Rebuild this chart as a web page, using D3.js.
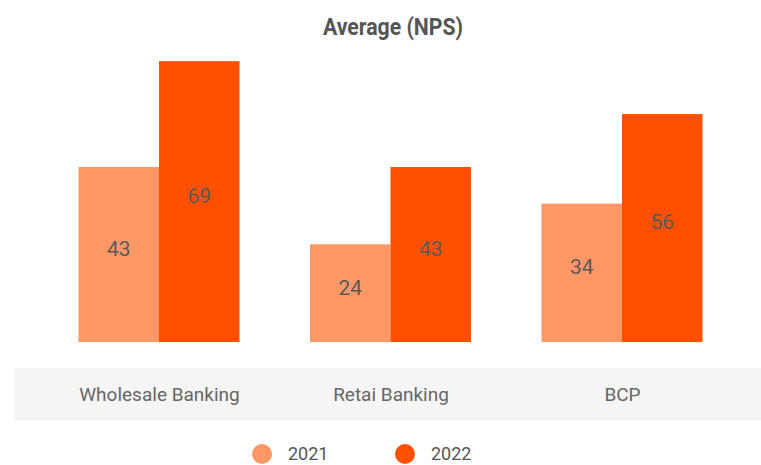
<!DOCTYPE html>
<html>
<head>
<meta charset="utf-8">
<script src="https://cdn.jsdelivr.net/npm/d3@7"></script>
<style>
  html, body { margin: 0; padding: 0; background: #fff; }
  svg { display: block; }
  text { font-family: Roboto, "Noto Sans", sans-serif; }
</style>
</head>
<body>
<svg id="chart" width="761" height="465"></svg>
<script>
// Chart data
const title = "Average (NPS)";
const categories = ["Wholesale Banking", "Retai Banking", "BCP"];
const seriesNames = ["2021", "2022"];
const values2021 = [43, 24, 34];
const values2022 = [69, 43, 56];
const seriesColors = ["#ff9766", "#ff5000"];

const svg = d3.select("#chart");
const W = 761, H = 465;

const baseY = 342;
const y = d3.scaleLinear().domain([0, 80]).range([baseY, baseY - 80 * 4.07]);

const x = d3.scalePoint().domain(categories).range([159, 622]);
const xs = d3.scaleBand().domain(seriesNames).range([-80.5, 80.5]).padding(0);

const rows = categories.map((c, i) => ({
  category: c,
  values: [values2021[i], values2022[i]]
}));

// Title (narrow, heavy heading)
svg.append("text")
  .attr("x", 393).attr("y", 35)
  .attr("text-anchor", "middle")
  .attr("font-size", 23).attr("font-weight", 700)
  .attr("textLength", 140).attr("lengthAdjust", "spacingAndGlyphs")
  .attr("fill", "#555")
  .text(title);

// Category band behind the x labels
svg.append("rect")
  .attr("x", 14).attr("y", 368)
  .attr("width", W - 14).attr("height", 53)
  .attr("fill", "#f5f5f5");

// Bars
const groups = svg.append("g").selectAll("g")
  .data(rows).join("g")
  .attr("transform", d => `translate(${x(d.category)},0)`);

groups.selectAll("rect")
  .data(d => d.values.map((v, j) => ({ series: seriesNames[j], value: v, j })))
  .join("rect")
  .attr("x", d => xs(d.series))
  .attr("y", d => y(d.value))
  .attr("width", xs.bandwidth())
  .attr("height", d => y(0) - y(d.value))
  .attr("fill", d => seriesColors[d.j]);

// Value labels, centred in each bar
groups.selectAll("text.value")
  .data(d => d.values.map((v, j) => ({ series: seriesNames[j], value: v })))
  .join("text")
  .attr("class", "value")
  .attr("x", d => xs(d.series) + xs.bandwidth() / 2)
  .attr("y", d => (y(d.value) + y(0)) / 2 - 6)
  .attr("dy", "0.35em")
  .attr("text-anchor", "middle")
  .attr("font-size", 21)
  .attr("fill", "#5a5a5a")
  .text(d => d.value);

// X axis labels
const xAxis = svg.append("g")
  .attr("transform", "translate(0,394)")
  .call(d3.axisBottom(x).tickSize(0).tickPadding(0));
xAxis.select(".domain").remove();
xAxis.selectAll("text")
  .attr("dy", "0.35em")
  .attr("font-size", 19)
  .attr("font-family", "Roboto, sans-serif")
  .attr("fill", "#666");

// Legend
const legend = svg.append("g").selectAll("g")
  .data(seriesNames).join("g")
  .attr("transform", (d, i) => `translate(${262 + i * 143},454)`);
legend.append("circle")
  .attr("r", 10)
  .attr("fill", (d, i) => seriesColors[i]);
legend.append("text")
  .attr("x", 26).attr("y", 0)
  .attr("dy", "0.35em")
  .attr("font-size", 18)
  .attr("fill", "#555")
  .text(d => d);
</script>
</body>
</html>
